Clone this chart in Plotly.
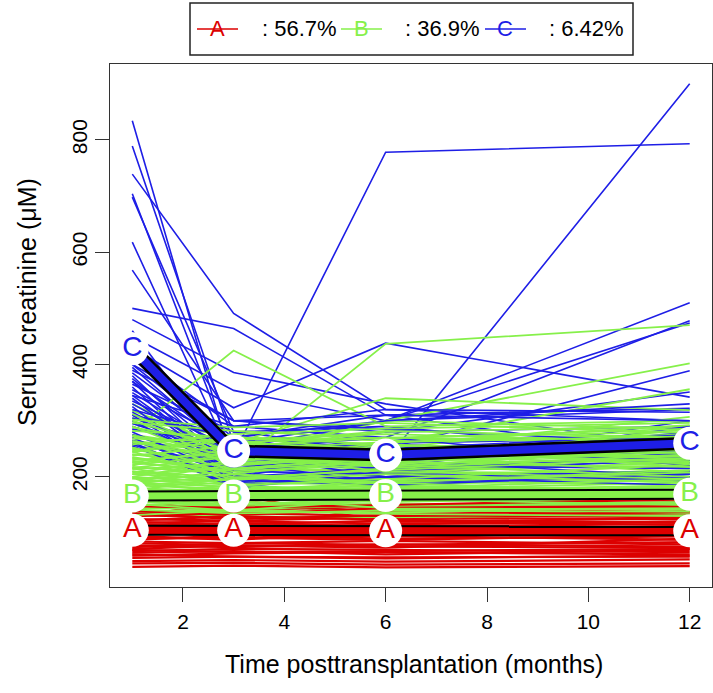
import plotly.graph_objects as go

# ---------------- data ----------------
months = [1, 3, 6, 12]
x_ticks = [2, 4, 6, 8, 10, 12]
y_ticks = [200, 400, 600, 800]

cluster_names = ["A", "B", "C"]
cluster_pcts = ["56.7%", "36.9%", "6.42%"]
cluster_colors = ["#DC0000", "#86F04A", "#1E1EE6"]

mean_A = [105, 105, 104, 104]
mean_B = [166, 166, 167, 169]
mean_C = [428, 246, 239, 260]

traj_A = [
    [62, 58, 55, 60], [70, 66, 68, 72], [78, 75, 80, 76], [85, 82, 79, 84],
    [92, 90, 95, 88], [98, 101, 97, 103], [105, 108, 104, 100], [112, 110, 115, 109],
    [118, 121, 117, 120], [125, 122, 128, 124], [132, 128, 126, 135], [138, 135, 140, 132],
    [145, 150, 138, 142], [150, 140, 148, 155], [128, 158, 135, 130], [142, 168, 120, 126],
    [95, 88, 102, 110], [88, 96, 90, 94], [102, 95, 108, 98], [110, 118, 112, 116],
    [116, 112, 106, 112], [122, 130, 124, 118], [135, 125, 132, 128], [75, 82, 86, 80],
    [68, 72, 70, 66], [82, 78, 74, 90], [60, 64, 66, 62], [56, 58, 57, 58],
    [50, 52, 49, 53], [46, 47, 44, 46], [40, 42, 39, 41], [100, 104, 100, 106],
    [108, 100, 110, 104], [90, 92, 88, 96], [130, 136, 130, 138], [140, 132, 145, 148],
    [120, 115, 122, 114], [65, 68, 62, 70], [72, 78, 76, 74], [148, 145, 150, 160],
]

traj_B = [
    [135, 130, 128, 132], [140, 138, 142, 136], [145, 142, 136, 148], [150, 148, 152, 145],
    [155, 150, 158, 160], [160, 156, 150, 155], [165, 160, 168, 162], [170, 165, 162, 172],
    [175, 170, 176, 168], [180, 174, 170, 182], [185, 178, 185, 176], [190, 182, 178, 190],
    [195, 186, 192, 186], [200, 190, 186, 198], [205, 195, 200, 194], [210, 198, 206, 210],
    [218, 204, 198, 206], [225, 210, 215, 220], [232, 215, 208, 226], [240, 220, 226, 216],
    [248, 226, 220, 235], [256, 232, 240, 230], [265, 240, 235, 245], [275, 248, 255, 250],
    [285, 255, 250, 262], [295, 262, 270, 258], [305, 270, 265, 275], [318, 250, 280, 290],
    [330, 240, 300, 285], [280, 425, 290, 300], [250, 220, 437, 470], [220, 260, 340, 319],
    [240, 235, 300, 402], [260, 250, 260, 356], [200, 230, 250, 307], [150, 145, 150, 152],
    [158, 152, 146, 150], [162, 168, 160, 158], [168, 158, 165, 170], [172, 180, 174, 166],
    [145, 155, 148, 140], [138, 142, 150, 144], [180, 170, 182, 178], [190, 200, 194, 200],
    [210, 190, 210, 204], [170, 185, 175, 185], [228, 200, 190, 212], [185, 195, 205, 190],
    [142, 135, 140, 138], [132, 140, 134, 130], [148, 160, 155, 165], [152, 140, 160, 150],
    [178, 165, 158, 175], [188, 176, 190, 170], [196, 205, 180, 196], [215, 185, 196, 222],
    [235, 210, 222, 200], [245, 195, 215, 240], [262, 228, 245, 226], [272, 236, 218, 252],
    [290, 220, 236, 238], [300, 245, 228, 268], [312, 232, 256, 246], [238, 255, 270, 280],
    [205, 215, 232, 255], [222, 238, 210, 196], [164, 176, 184, 160], [156, 166, 144, 142],
    [198, 180, 168, 184], [252, 205, 190, 208], [268, 262, 248, 232], [282, 270, 258, 242],
    [226, 248, 262, 272], [244, 266, 276, 262], [296, 282, 268, 286], [214, 224, 242, 228],
    [186, 214, 226, 244], [176, 198, 212, 234], [258, 276, 286, 296], [302, 288, 296, 278],
    [234, 206, 230, 264], [208, 228, 252, 218], [274, 244, 226, 286], [194, 222, 238, 208],
    [246, 272, 244, 236], [288, 258, 282, 270], [230, 242, 218, 250], [264, 232, 260, 292],
    [216, 236, 224, 232], [252, 214, 236, 224],
]

traj_C = [
    [834, 215, 240, 255], [789, 260, 300, 320], [739, 491, 320, 300], [704, 235, 210, 230],
    [698, 280, 250, 262], [618, 225, 200, 245], [568, 300, 280, 290], [500, 464, 310, 235],
    [480, 386, 330, 250], [460, 220, 229, 900], [450, 354, 300, 510], [440, 240, 778, 793],
    [430, 323, 438, 342], [420, 290, 270, 478], [410, 270, 300, 474], [400, 260, 250, 389],
    [395, 240, 280, 351], [390, 300, 310, 322], [385, 250, 220, 300], [380, 210, 230, 280],
    [375, 230, 260, 270], [370, 200, 240, 250], [365, 280, 290, 240], [360, 195, 210, 230],
    [355, 260, 220, 215], [350, 240, 200, 205], [345, 215, 245, 260], [340, 205, 190, 200],
    [335, 250, 270, 220], [330, 230, 215, 290], [325, 190, 200, 210], [320, 270, 250, 275],
    [315, 220, 235, 245], [310, 200, 260, 225], [305, 245, 225, 265], [300, 210, 205, 195],
    [295, 235, 250, 240], [290, 225, 190, 210], [285, 260, 240, 255], [280, 200, 215, 235],
    [275, 215, 230, 200], [270, 190, 220, 215], [265, 205, 245, 230], [262, 180, 210, 190],
    [258, 195, 185, 205], [255, 185, 200, 185], [370, 250, 300, 330], [345, 290, 320, 315],
    [400, 300, 285, 260], [310, 270, 310, 300],
]

# ---------------- layout geometry ----------------
W, H = 713, 693
ML, MR, MT, MB = 110, 1, 64, 106
PW, PH = W - ML - MR, H - MT - MB
FONT = "Liberation Sans, Arial, Helvetica, sans-serif"


def px_x(p):
    return (p - ML) / PW


def px_y(p):
    return (H - MB - p) / PH


def flat(trajs):
    xs, ys = [], []
    for t in trajs:
        xs += months + [None]
        ys += list(t) + [None]
    return xs, ys


fig = go.Figure()

# individual trajectories, drawn in interleaved chunks so colours overlap like the original
groups = {"A": traj_A, "B": traj_B, "C": traj_C}
col_of = dict(zip(cluster_names, cluster_colors))
width_of = {"A": 2.2, "B": 1.8, "C": 1.6}
order = [("A", 0), ("C", 0), ("B", 0), ("A", 1), ("C", 1), ("B", 1)]
for name, part in order:
    g = groups[name]
    half = len(g) // 2
    sub = g[:half] if part == 0 else g[half:]
    xs, ys = flat(sub)
    fig.add_trace(go.Scatter(x=xs, y=ys, mode="lines",
                             line=dict(color=col_of[name], width=width_of[name]),
                             hoverinfo="skip", showlegend=False))

means = [mean_A, mean_B, mean_C]
outer_w = [11, 11, 13]
inner_w = [7, 7, 8]
for m, col, ow, iw in zip(means, cluster_colors, outer_w, inner_w):
    fig.add_trace(go.Scatter(x=months, y=m, mode="lines",
                             line=dict(color="black", width=ow),
                             hoverinfo="skip", showlegend=False))
    fig.add_trace(go.Scatter(x=months, y=m, mode="lines",
                             line=dict(color=col, width=iw),
                             hoverinfo="skip", showlegend=False))

for m, col, name in zip(means, cluster_colors, cluster_names):
    fig.add_trace(go.Scatter(x=months, y=m, mode="markers+text",
                             marker=dict(color="white", size=33, line=dict(width=0)),
                             text=[name] * len(months), textposition="middle center",
                             textfont=dict(color=col, size=28, family=FONT),
                             hoverinfo="skip", showlegend=False))

# ---------------- custom legend ----------------
shapes = [dict(type="rect", xref="paper", yref="paper",
               x0=px_x(190), x1=px_x(633), y0=px_y(55), y1=px_y(3),
               line=dict(color="#222", width=1.5), fillcolor="white")]
annotations = []
line_x0 = [197, 341, 485]
text_x0 = [260, 403, 547]
for i in range(3):
    shapes.append(dict(type="line", xref="paper", yref="paper",
                       x0=px_x(line_x0[i]), x1=px_x(line_x0[i] + 41),
                       y0=px_y(29), y1=px_y(29),
                       line=dict(color=cluster_colors[i], width=1.5)))
    annotations.append(dict(xref="paper", yref="paper",
                            x=px_x(line_x0[i] + 20.5), y=px_y(29),
                            text=cluster_names[i], showarrow=False,
                            xanchor="center", yanchor="middle",
                            font=dict(color=cluster_colors[i], size=22, family=FONT)))
    annotations.append(dict(xref="paper", yref="paper",
                            x=px_x(text_x0[i]), y=px_y(29),
                            text=": " + cluster_pcts[i], showarrow=False,
                            xanchor="left", yanchor="middle",
                            font=dict(color="black", size=22, family=FONT)))

# axis titles
annotations.append(dict(xref="paper", yref="paper", x=px_x(414), y=px_y(664),
                        text="Time posttransplantation (months)", showarrow=False,
                        xanchor="center", yanchor="middle",
                        font=dict(color="black", size=25, family=FONT)))
annotations.append(dict(xref="paper", yref="paper", x=px_x(27), y=px_y(302),
                        text="Serum creatinine (μM)", showarrow=False, textangle=-90,
                        xanchor="center", yanchor="middle",
                        font=dict(color="black", size=25, family=FONT)))

axis_common = dict(ticks="outside", ticklen=14, tickwidth=1.2, tickcolor="#333",
                   showgrid=False, zeroline=False, showline=True, mirror=True,
                   linecolor="#333", linewidth=1.2, automargin=False,
                   tickfont=dict(size=21, family=FONT, color="black"))

fig.update_layout(
    template="none",
    width=W, height=H,
    margin=dict(l=ML, r=MR, t=MT, b=MB, pad=0, autoexpand=False),
    paper_bgcolor="white", plot_bgcolor="white",
    font=dict(family=FONT, size=21, color="black"),
    showlegend=False,
    shapes=shapes, annotations=annotations,
    xaxis=dict(range=[0.56, 12.44], tickvals=x_ticks, ticklabelstandoff=2, **axis_common),
    yaxis=dict(range=[4, 935], tickvals=y_ticks, tickangle=-90, ticklabelstandoff=0,
               **axis_common),
)

fig.write_html("out.html", config={"displayModeBar": False},
               post_script="document.body.style.margin='0px';document.body.style.overflow='hidden';")
